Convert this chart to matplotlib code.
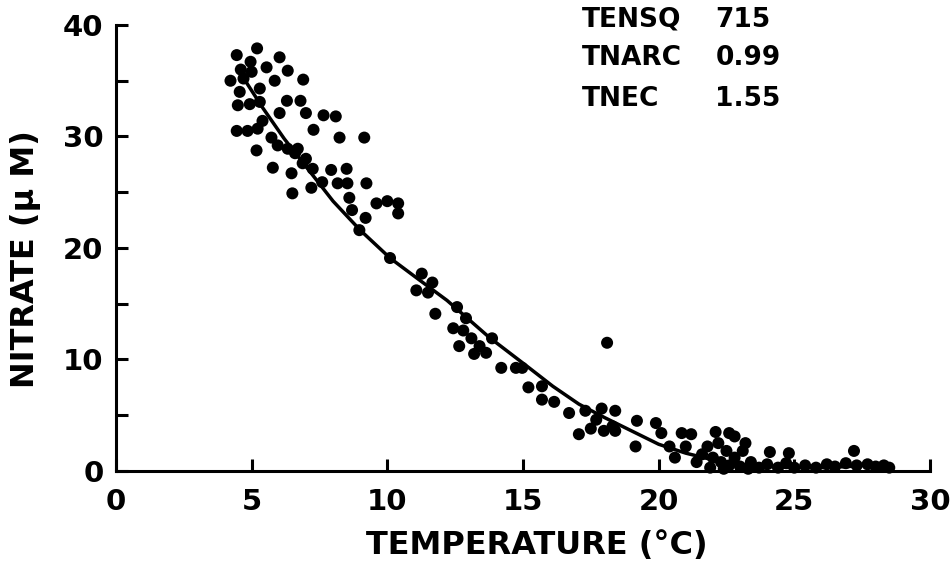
import numpy as np
import matplotlib
matplotlib.use("Agg")
import matplotlib.pyplot as plt

plt.rcParams.update({
    'font.family': ['DejaVu Sans'],
    'font.weight': 'bold',
    'font.size': 21,
})

# scatter: temperature (deg C) vs nitrate (uM)
temp = [
    4.45, 5.2, 4.96, 6.03, 5.55, 6.33, 4.22, 5.0, 5.85, 6.9, 4.56, 5.3, 6.3, 6.8,
    4.49, 4.93, 5.3, 6.03, 7.0, 7.65, 8.1, 7.28, 8.24, 9.15, 4.45, 4.85, 5.22, 5.4,
    5.18, 5.73, 5.96, 6.33, 6.7, 5.78, 6.47, 6.88, 7.0, 7.25, 7.93, 8.5, 6.5, 7.2,
    8.17, 8.53, 9.23, 8.6, 8.7, 9.2, 9.6, 10.0, 10.4, 10.4, 8.97, 10.1, 7.6, 6.6,
    4.7, 4.6,
    11.27, 11.66, 11.07, 11.5, 11.77, 12.57, 12.9, 12.43, 12.8, 12.65, 13.1, 13.86,
    13.4, 13.2, 13.64, 14.2, 14.74, 14.97,
    18.1, 15.2, 15.7, 15.7, 16.15, 16.7, 17.3, 17.9, 18.4, 17.06, 17.5, 17.98, 18.4,
    19.2, 19.15, 19.9, 20.1, 20.85, 21.2, 20.6, 21.0, 20.4, 17.7, 18.3,
    22.1, 22.6, 22.8, 23.2, 24.1, 24.8, 27.2, 21.6, 21.8, 22.0, 22.2, 22.3, 22.5,
    22.6, 22.8, 23.0, 23.1, 23.4, 23.7, 24.0, 24.4, 24.7, 25.0, 25.4, 25.8, 26.2,
    26.5, 26.9, 27.3, 27.7, 28.0, 28.3, 28.5, 21.9, 22.4, 23.3, 21.4,
]
nitrate = [
    37.3, 37.9, 36.7, 37.1, 36.2, 35.9, 35.0, 35.8, 35.0, 35.1, 34.0, 34.3, 33.2, 33.2,
    32.8, 32.9, 33.1, 32.1, 32.1, 31.9, 31.8, 30.6, 29.9, 29.9, 30.5, 30.5, 30.7, 31.4,
    28.75, 29.9, 29.2, 28.9, 28.9, 27.2, 26.7, 27.6, 28.0, 27.1, 27.0, 27.1, 24.9, 25.4,
    25.8, 25.8, 25.8, 24.5, 23.4, 22.7, 24.0, 24.2, 24.0, 23.1, 21.6, 19.1, 25.9, 28.5,
    35.2, 36.0,
    17.7, 16.9, 16.2, 16.0, 14.1, 14.7, 13.7, 12.8, 12.6, 11.2, 11.9, 11.9,
    11.2, 10.5, 10.6, 9.25, 9.25, 9.25,
    11.5, 7.5, 7.6, 6.4, 6.2, 5.2, 5.4, 5.6, 5.4, 3.3, 3.8, 3.6, 3.6,
    4.5, 2.2, 4.3, 3.4, 3.4, 3.3, 1.2, 2.2, 2.2, 4.6, 4.0,
    3.5, 3.4, 3.1, 2.5, 1.7, 1.6, 1.8, 1.5, 2.2, 1.2, 2.5, 0.8, 1.8,
    0.5, 1.2, 0.4, 1.8, 0.8, 0.3, 0.6, 0.3, 0.7, 0.3, 0.5, 0.3, 0.6,
    0.4, 0.7, 0.5, 0.6, 0.4, 0.5, 0.3, 0.3, 0.2, 0.2, 0.8,
]

# fitted curve
curve_t = [4.5, 5.4, 6.2, 7.1, 8.0, 9.0, 10.1, 11.2, 12.2, 13.75, 15.2, 16.1,
           17.06, 18.0, 19.0, 20.0, 21.0, 22.0, 23.0, 24.0, 25.0, 26.0, 27.0, 27.5]
curve_n = [36.0, 32.6, 29.8, 27.0, 24.2, 21.6, 19.1, 17.1, 15.3, 12.0, 9.3, 7.6,
           6.0, 4.8, 3.6, 2.4, 1.6, 1.0, 0.6, 0.4, 0.3, 0.3, 0.4, 0.5]

stats_names = ['TENSQ', 'TNARC', 'TNEC']
stats_values = ['715', '0.99', '1.55']

fig = plt.figure(figsize=(9.5, 5.64), dpi=100)
ax = fig.add_axes([0.1221, 0.1649, 0.8568, 0.7908])

ax.plot(curve_t, curve_n, color='black', lw=2.5, solid_capstyle='round')
ax.scatter(temp, nitrate, s=75, color='black', edgecolors='none', clip_on=False, zorder=3)

ax.set_xlim(0, 30)
ax.set_ylim(0, 40)
ax.set_xticks(np.arange(0, 31, 5))
ax.set_yticks(np.arange(0, 41, 5))
ax.set_yticklabels(['0', '', '10', '', '20', '', '30', '', '40'])

for side in ['top', 'right']:
    ax.spines[side].set_visible(False)
for side in ['left', 'bottom']:
    ax.spines[side].set_linewidth(2.2)

ax.tick_params(axis='both', direction='in', length=8.5, width=2.2, labelsize=21)
ax.tick_params(axis='y', pad=9)
ax.tick_params(axis='x', pad=12)

ax.set_xlabel('TEMPERATURE (°C)', fontsize=23, fontweight='bold', va='center')
ax.xaxis.set_label_coords(0.517, -0.166)
ax.set_ylabel('NITRATE (μ M)', fontsize=23, fontweight='bold', va='center')
ax.yaxis.set_label_coords(-0.1106, 0.475)

row_y = [0.965, 0.897, 0.825]
for name, val, y in zip(stats_names, stats_values, row_y):
    fig.text(0.613, y, name, fontsize=19, fontweight='bold', va='center', ha='left')
    fig.text(0.753, y, val, fontsize=19, fontweight='bold', va='center', ha='left')

fig.savefig('out.png', dpi=100)
